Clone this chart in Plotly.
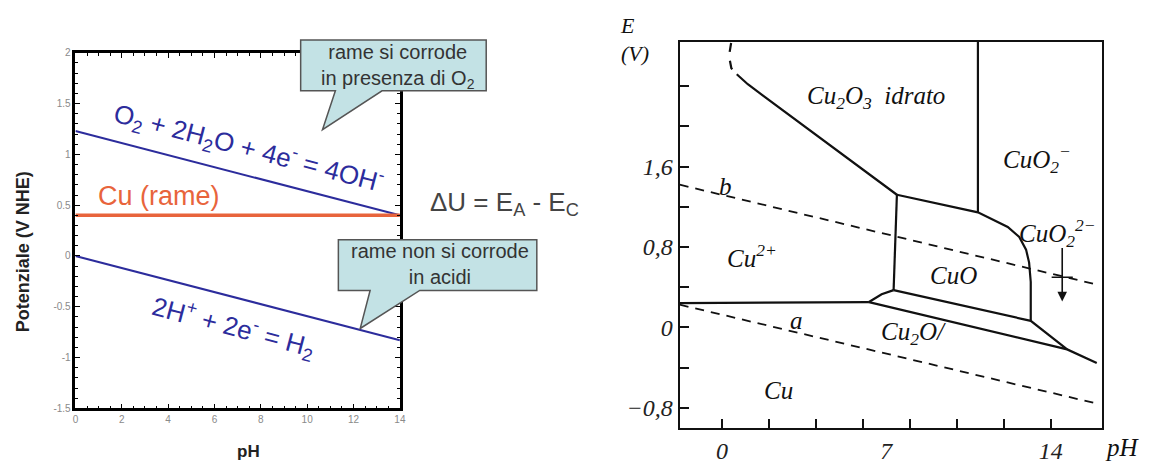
import plotly.graph_objects as go

W, H = 1156, 466

# ---------------- Left chart data ----------------
ph_left = [0, 14]
e_o2 = [1.23, 0.40]      # O2 + 2H2O + 4e- = 4OH-
e_h2 = [0.00, -0.83]     # 2H+ + 2e- = H2
e_cu = [0.40, 0.40]      # Cu (rame)

left_xticks = [0, 2, 4, 6, 8, 10, 12, 14]
left_yticks = [-1.5, -1, -0.5, 0, 0.5, 1, 1.5, 2]
left_yticktext = ["-1.5", "-1", "-0.5", "0", "0.5", "1", "1.5", "2"]

# ---------------- Right chart data (Pourbaix Cu) ----------------
cu2o3_dash_ph = [0.39, 0.30, 0.40, 0.63]
cu2o3_dash_e = [2.83, 2.70, 2.58, 2.52]
cu2o3_ph = [0.63, 1.10, 7.45]
cu2o3_e = [2.52, 2.42, 1.32]

cuo2_vert_ph = [10.9, 10.9]
cuo2_vert_e = [2.84, 1.145]

cuo_top_ph = [7.45, 10.9, 12.17, 12.66, 12.95, 13.08, 13.15, 13.15]
cuo_top_e = [1.32, 1.145, 1.00, 0.90, 0.774, 0.645, 0.452, 0.065]

cuo_left_ph = [7.45, 7.31]
cuo_left_e = [1.32, 0.371]

cuo_bottom_ph = [7.31, 13.15, 14.70]
cuo_bottom_e = [0.371, 0.065, -0.219]

cu2o_left_ph = [7.31, 6.80, 6.26]
cu2o_left_e = [0.371, 0.33, 0.252]

cu2p_cu_ph = [-1.8, 6.26]
cu2p_cu_e = [0.242, 0.252]

cu2o_cu_ph = [6.26, 14.70, 15.96]
cu2o_cu_e = [0.252, -0.219, -0.355]

line_b_ph = [-1.8, 15.8]
line_b_e = [1.42, 0.435]
line_a_ph = [-1.8, 15.96]
line_a_e = [0.226, -0.758]

region_labels = ["Cu<sub>2</sub>O<sub>3</sub>  idrato", "CuO<sub>2</sub><sup>−</sup>",
                 "CuO<sub>2</sub><sup>2−</sup>", "Cu<sup>2+</sup>", "CuO",
                 "Cu<sub>2</sub>O/", "Cu", "b", "a"]
region_ph = [6.54, 13.43, 14.28, 1.27, 9.85, 8.16, 2.39, 0.14, 3.16]
region_e = [2.29, 1.68, 0.935, 0.71, 0.516, -0.065, -0.63, 1.40, 0.07]

right_yticks = [-0.8, 0, 0.8, 1.6]
right_yticktext = ["−0,8", "0", "0,8", "1,6"]
right_yminor = [-0.4, 0.4, 1.2, 2.0, 2.4]
right_xticks = [0, 7, 14]
right_xticktext = ["0", "7", "14"]
right_xminor = [0, 2, 4, 6, 8, 10, 12, 14]

arrow_ph = 14.49
arrow_e_from = 0.806
arrow_e_to = 0.258
crossbar_e = 0.50

# ---------------- Figure ----------------
fig = go.Figure()

BLUE = "#2c2c9c"
ORANGE = "#e8643c"

fig.add_trace(go.Scatter(x=ph_left, y=e_o2, mode="lines", line=dict(color=BLUE, width=2),
                         xaxis="x", yaxis="y", showlegend=False, hoverinfo="skip"))
fig.add_trace(go.Scatter(x=ph_left, y=e_h2, mode="lines", line=dict(color=BLUE, width=2),
                         xaxis="x", yaxis="y", showlegend=False, hoverinfo="skip"))
fig.add_trace(go.Scatter(x=ph_left, y=e_cu, mode="lines", line=dict(color=ORANGE, width=3.5),
                         xaxis="x", yaxis="y", showlegend=False, hoverinfo="skip"))

def rline(xs, ys, dash="solid", width=2.2):
    fig.add_trace(go.Scatter(x=xs, y=ys, mode="lines",
                             line=dict(color="#111", width=width, dash=dash),
                             xaxis="x2", yaxis="y2", showlegend=False, hoverinfo="skip"))

rline(cu2o3_dash_ph, cu2o3_dash_e, dash="dash")
rline(cu2o3_ph, cu2o3_e)
rline(cuo2_vert_ph, cuo2_vert_e)
rline(cuo_top_ph, cuo_top_e)
rline(cuo_left_ph, cuo_left_e)
rline(cuo_bottom_ph, cuo_bottom_e)
rline(cu2o_left_ph, cu2o_left_e)
rline(cu2p_cu_ph, cu2p_cu_e)
rline(cu2o_cu_ph, cu2o_cu_e)
rline(line_b_ph, line_b_e, dash="9px,7px", width=1.8)
rline(line_a_ph, line_a_e, dash="9px,7px", width=1.8)
# small cross bar on the arrow
rline([arrow_ph - 0.45, arrow_ph + 0.45], [crossbar_e, crossbar_e], width=1.5)

def px2paper(px, py):
    return px / W, 1 - py / H

left_axis_common = dict(showline=True, linecolor="black", linewidth=2.5, mirror="allticks",
                        ticks="inside", ticklen=5, tickcolor="black", showgrid=False,
                        zeroline=False, tickfont=dict(family="Liberation Sans", size=10, color="#8a8a8a"))

fig.update_layout(
    width=W, height=H, margin=dict(l=0, r=0, t=0, b=0, pad=0),
    paper_bgcolor="white", plot_bgcolor="white",
    xaxis=dict(domain=[73 / W, 400 / W], range=[0, 14], tickvals=left_xticks,
               minor=dict(dtick=0.5, ticks="inside", ticklen=3, tickcolor="black"),
               anchor="y", **left_axis_common),
    yaxis=dict(domain=[1 - 413 / H, 1 - 48 / H], range=[-1.5, 2], tickvals=left_yticks,
               ticktext=left_yticktext,
               minor=dict(dtick=0.1, ticks="inside", ticklen=3, tickcolor="black"),
               anchor="x", **left_axis_common),
    xaxis2=dict(domain=[682 / W, 1108 / W], range=[-1.8, 16.2], anchor="y2",
                tickvals=right_xticks, ticktext=["<i>%s</i>" % t for t in right_xticktext],
                ticks="", showline=True, linecolor="#111", linewidth=2.2, mirror=True,
                minor=dict(tickvals=right_xminor, ticks="inside", ticklen=9, tickcolor="#111", tickwidth=1.5),
                showgrid=False, zeroline=False,
                tickfont=dict(family="Liberation Serif", size=24, color="#222")),
    yaxis2=dict(domain=[33 / H, 429 / H], range=[-1.0, 2.84], anchor="x2",
                tickvals=right_yticks, ticktext=["<i>%s</i>" % t for t in right_yticktext],
                ticks="inside", ticklen=9, tickcolor="#111", tickwidth=1.5,
                showline=True, linecolor="#111", linewidth=2.2, mirror=True,
                minor=dict(tickvals=right_yminor, ticks="inside", ticklen=9, tickcolor="#111", tickwidth=1.5),
                showgrid=False, zeroline=False,
                tickfont=dict(family="Liberation Serif", size=24, color="#222")),
)

ann = []
def add_ann(**kw):
    kw.setdefault("xanchor", "center")
    kw.setdefault("yanchor", "middle")
    kw.setdefault("showarrow", False)
    ann.append(kw)

def add_paper(px, py, text, font, **kw):
    x, y = px2paper(px, py)
    add_ann(x=x, y=y, xref="paper", yref="paper", text=text, font=font, **kw)

# Left chart text
add_ann(x=7.45, y=1.06, xref="x", yref="y",
        text="O<sub>2</sub> + 2H<sub>2</sub>O + 4e<sup>-</sup> = 4OH<sup>-</sup>",
        textangle=14.8, font=dict(family="Liberation Sans", size=26, color=BLUE))
add_ann(x=6.81, y=-0.70, xref="x", yref="y", text="2H<sup>+</sup> + 2e<sup>-</sup> = H<sub>2</sub>",
        textangle=14.8, font=dict(family="Liberation Sans", size=26, color=BLUE))
add_ann(x=3.6, y=0.59, xref="x", yref="y", text="Cu (rame)",
        font=dict(family="Liberation Sans", size=27, color=ORANGE))
add_paper(20, 252, "<b>Potenziale (V NHE)</b>", dict(family="Liberation Sans", size=18, color="#222"),
          textangle=-90)
add_paper(247, 457, "<b>pH</b>", dict(family="Liberation Sans", size=17, color="#222"))
add_paper(505, 203, "ΔU = E<sub>A</sub> - E<sub>C</sub>", dict(family="Liberation Sans", size=26, color="#444"))
add_paper(398, 62, "rame si corrode<br>in presenza di O<sub>2</sub>",
          dict(family="Liberation Sans", size=20, color="#333"))
add_paper(440, 265, "rame non si corrode<br>in acidi",
          dict(family="Liberation Sans", size=20, color="#333"))

# Right chart text
for t, px_, e_ in zip(region_labels, region_ph, region_e):
    add_ann(x=px_, y=e_, xref="x2", yref="y2", text="<i>%s</i>" % t,
            font=dict(family="Liberation Serif", size=25, color="#111"))
add_paper(629, 20, "<i>E</i>", dict(family="Liberation Serif", size=22, color="#111"))
add_paper(637, 49, "<i>(V)</i>", dict(family="Liberation Serif", size=22, color="#111"))
add_paper(1128, 453, "<i>pH</i>", dict(family="Liberation Serif", size=25, color="#111"))
add_ann(x=arrow_ph, y=arrow_e_to, ax=arrow_ph, ay=arrow_e_from, xref="x2", yref="y2",
        axref="x2", ayref="y2", text="", showarrow=True, arrowhead=2, arrowsize=1.2,
        arrowwidth=1.6, arrowcolor="#111")
fig.update_layout(annotations=ann)

# Callout bubbles (box + tail) in pixel geometry
def bubble(pts):
    path = "M " + " L ".join("%f,%f" % px2paper(a, b) for a, b in pts) + " Z"
    return dict(type="path", path=path, xref="paper", yref="paper", layer="above",
                fillcolor="#c3e2e5", line=dict(color="#555", width=1.5))

shapes = [
    bubble([(300, 35), (487, 35), (487, 87), (382, 87), (322, 127), (335, 87), (300, 87)]),
    bubble([(338, 240), (538, 240), (538, 292), (420, 292), (360, 331), (370, 292), (338, 292)]),
]
fig.update_layout(shapes=shapes)

fig.write_html("out.html", config={"displayModeBar": False},
               post_script="document.body.style.margin='0px';document.body.style.overflow='hidden';")
